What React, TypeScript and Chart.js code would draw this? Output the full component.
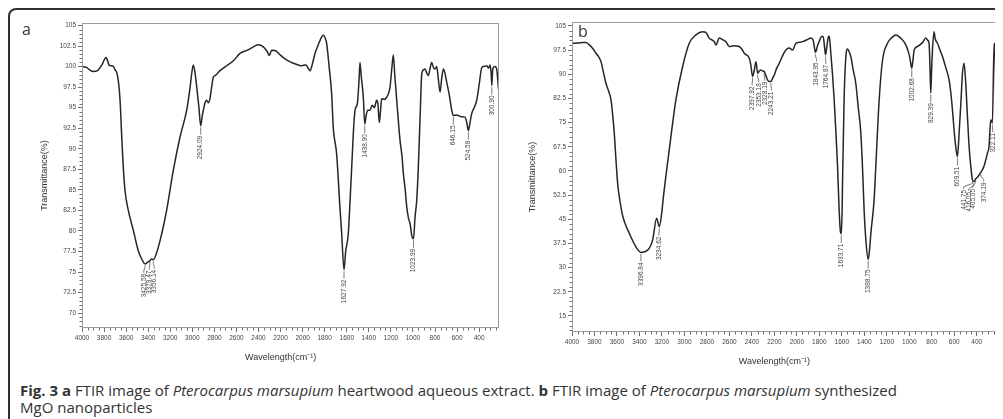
import React, { useEffect, useRef } from "react";
import { Chart, registerables } from "chart.js";

Chart.register(...registerables);

// ---------- Panel a: heartwood aqueous extract ----------
const wavenumberA = [
  4000, 3960, 3930, 3900, 3860, 3820, 3782, 3770, 3755, 3735, 3715, 3700, 3686, 3670, 3655, 3640, 3626, 3610,
  3580, 3535, 3490, 3455, 3429, 3405, 3384, 3370, 3354, 3320, 3293, 3260, 3233, 3172, 3112, 3051, 3020, 3006,
  2991, 2975, 2960, 2940, 2924, 2910, 2900, 2885, 2870, 2855, 2840, 2825, 2810, 2794, 2749, 2700, 2628, 2568,
  2500, 2447, 2402, 2356, 2320, 2302, 2281, 2250, 2210, 2175, 2130, 2084, 2040, 2009, 1970, 1950, 1933, 1910,
  1888, 1860, 1827, 1812, 1797, 1782, 1760, 1737, 1722, 1692, 1662, 1646, 1625, 1610, 1586, 1570, 1555, 1540,
  1525, 1504, 1490, 1480, 1470, 1450, 1437, 1425, 1410, 1389, 1370, 1350, 1329, 1318, 1305, 1295, 1283, 1260,
  1237, 1220, 1208, 1190, 1178, 1165, 1147, 1130, 1117, 1100, 1087, 1070, 1056, 1040, 1026, 1010, 995, 981,
  966, 951, 935, 920, 905, 890, 875, 860, 845, 830, 815, 800, 785, 770, 754, 740, 724, 710, 694, 670, 650, 634,
  610, 589, 560, 528, 512, 498, 485, 467, 445, 422, 400, 376, 355, 331, 315, 300, 290, 285, 278, 271, 255, 240,
  225,
];
const transmittanceA = [
  100.0, 99.9, 99.6, 99.4, 99.5, 100.2, 101.1, 100.8, 100.2, 100.1, 100.0, 99.6, 99.3, 98.2, 95.9, 91.5, 87.8, 84.9,
  82.5, 80.1, 77.6, 76.5, 76.0, 76.2, 76.4, 76.6, 76.5, 77.5, 78.8, 80.7, 82.5, 87.4, 91.4, 94.7, 97.5, 99.1,
  100.2, 99.2, 97.5, 95.0, 92.8, 94.0, 94.7, 95.6, 95.9, 95.6, 96.1, 97.5, 98.7, 98.9, 99.5, 100.0, 100.7, 101.6,
  102.0, 102.4, 102.65, 102.4, 101.8, 101.35, 102.0, 101.96, 101.5, 101.1, 100.7, 100.4, 100.2, 100.1, 100.2, 99.8, 99.5, 100.4,
  101.6, 102.6, 103.6, 103.8, 103.5, 102.8, 100.0, 96.7, 92.5, 89.4, 82.9, 79.7, 75.3, 77.5, 79.7, 83.7, 87.8, 92.0,
  94.7, 95.5, 98.0, 100.5, 99.0, 96.3, 93.0, 94.0, 94.7, 94.7, 95.3, 95.0, 95.9, 95.5, 93.2, 94.5, 96.1, 96.0,
  96.3, 96.8, 97.5, 100.0, 101.4, 99.0, 95.9, 93.0, 91.0, 89.2, 87.0, 85.0, 82.9, 81.5, 80.9, 79.4, 79.05, 81.7,
  83.7, 87.8, 94.0, 99.1, 99.6, 99.7, 99.2, 98.9, 99.8, 100.5, 99.9, 99.7, 100.0, 98.5, 96.9, 98.5, 99.7, 99.2, 98.1, 96.5, 94.8, 94.05,
  94.1, 94.05, 93.9, 93.85, 93.2, 92.2, 93.0, 94.3, 95.0, 95.9, 97.8, 99.9, 100.0, 100.1, 99.8, 100.2, 99.0, 97.7, 99.5, 99.9, 100.0, 99.6,
  97.3,
];
const peakLabelA = ["3425.58", "3379.47", "3356.14", "2924.09", "1627.92", "1438.90", "1023.99", "646.15", "524.58", "300.90"];
const peakAtA = [3429, 3384, 3354, 2924, 1625, 1437, 995, 634, 498, 285];
const peakValueA = [76.0, 76.4, 76.5, 92.8, 75.3, 93.0, 79.05, 94.05, 92.2, 97.7];
const peakTextAtA = [3440, 3390, 3345, 2924, 1625, 1437, 995, 634, 498, 285];
const yTickValuesA = [70, 72.5, 75, 77.5, 80, 82.5, 85, 87.5, 90, 92.5, 95, 97.5, 100, 102.5, 105];
const yRangeA = { min: 68.2, max: 105.3, minor: 0.5, step: 2.5 };

// ---------- Panel b: synthesized MgO nanoparticles ----------
const wavenumberB = [
  4000, 3979, 3940, 3900, 3876, 3846, 3815, 3787, 3765, 3742, 3720, 3698, 3675, 3653, 3640, 3624, 3610, 3594,
  3573, 3549, 3520, 3490, 3431, 3387, 3327, 3283, 3247, 3224, 3200, 3190, 3135, 3076, 3016, 2957, 2898, 2838,
  2810, 2780, 2735, 2720, 2690, 2660, 2631, 2602, 2560, 2513, 2490, 2468, 2424, 2410, 2394, 2380, 2364, 2349,
  2335, 2320, 2305, 2290, 2275, 2260, 2245, 2231, 2215, 2201, 2180, 2157, 2130, 2098, 2068, 2038, 2009, 1980,
  1949, 1910, 1876, 1855, 1840, 1835, 1815, 1802, 1780, 1766, 1754, 1745, 1730, 1718, 1712, 1698, 1683, 1668,
  1650, 1638, 1624, 1612, 1605, 1598, 1594, 1580, 1564, 1549, 1535, 1520, 1500, 1476, 1455, 1431, 1415, 1402,
  1385, 1366, 1355, 1342, 1313, 1298, 1268, 1238, 1194, 1160, 1120, 1076, 1031, 1001, 990, 978, 967, 957, 927,
  883, 853, 835, 824, 816, 809, 801, 794, 780, 770, 749, 727, 705, 675, 646, 630, 616, 600, 587, 572, 557, 540,
  527, 513, 498, 483, 468, 452, 438, 424, 410, 395, 380, 365, 350, 335, 320, 305, 291, 276, 268, 261, 246, 240,
  231, 225, 222,
];
const transmittanceB = [
  99.6, 99.6, 99.7, 99.8, 99.8, 99.1, 98.0, 96.5, 95.5, 93.9, 90.5, 87.2, 84.8, 82.0, 78.0, 71.7, 64.0, 56.1,
  50.5, 46.0, 43.0, 40.6, 36.4, 34.7, 35.4, 38.5, 45.3, 42.7, 47.5, 51.0, 66.5, 82.0, 92.4, 99.6, 102.2, 103.2,
  103.0, 101.2, 100.1, 99.1, 101.2, 100.7, 100.1, 98.6, 98.8, 98.6, 97.8, 96.5, 95.0, 93.0, 89.3, 91.0, 93.9, 90.3,
  91.0, 91.3, 91.0, 90.8, 89.5, 88.2, 87.7, 87.7, 88.8, 89.8, 91.8, 93.4, 95.5, 97.5, 98.1, 97.5, 99.6, 99.9,
  100.1, 100.7, 101.2, 100.5, 97.5, 96.8, 99.0, 100.1, 101.7, 101.7, 98.5, 96.0, 99.5, 101.8, 101.7, 96.5, 90.0, 82.0,
  70.0, 61.3, 47.9, 41.0, 40.5, 47.0, 56.1, 82.0, 95.5, 97.8, 97.0, 95.5, 91.5, 87.2, 80.0, 71.7, 60.0, 47.9,
  38.0, 32.5, 35.0, 40.6, 51.0, 61.3, 82.0, 94.4, 99.6, 101.2, 102.2, 101.2, 99.1, 96.0, 94.0, 91.9, 94.5, 97.5, 98.6,
  99.8, 101.2, 100.5, 99.6, 92.0, 84.1, 92.0, 97.5, 103.2, 101.0, 99.6, 97.5, 95.5, 92.0, 88.2, 84.0, 78.9, 72.0, 67.5, 64.4, 71.7, 82.0,
  90.3, 93.4, 87.2, 77.0, 67.5, 61.0, 57.2, 56.6, 57.5, 58.0, 58.7, 59.5, 60.3, 61.5, 63.4, 65.5, 67.5, 75.8, 75.5, 74.8, 99.6, 99.0,
  82.0, 50.0, 34.5,
];
const peakLabelB = [
  "3396.84", "3234.62", "2397.92", "2353.18", "2328.19", "2243.21", "1843.95", "1764.87", "1633.71", "1388.75",
  "1002.68", "829.39", "609.51", "441.75", "416.05", "405.05", "374.19", "322.11",
];
const peakAtB = [3387, 3224, 2394, 2349, 2290, 2231, 1835, 1745, 1605, 1366, 978, 809, 572, 438, 424, 410, 365, 261];
const peakValueB = [34.7, 42.7, 89.3, 90.3, 90.8, 87.7, 96.8, 96.0, 40.5, 32.5, 91.9, 84.1, 64.4, 57.2, 56.6, 57.5, 59.5, 74.8];
const peakTextAtB = [3387, 3227, 2398, 2339, 2286, 2227, 1825, 1742, 1605, 1366, 978, 809, 572, 516, 471, 436, 338, 258];
const yTickValuesB = [15, 22.5, 30, 37.5, 45, 52.5, 60, 67.5, 75, 82.5, 90, 97.5, 105];
const yRangeB = { min: 10, max: 106.2, minor: 1.5, step: 7.5 };

// ---------- shared x axis ----------
const xTickValues = [4000, 3800, 3600, 3400, 3200, 3000, 2800, 2600, 2400, 2200, 2000, 1800, 1600, 1400, 1200, 1000, 800, 600, 400];
const X_MIN = 220;
const X_MAX = 4000;
const X_STEP = 200;
const X_MINOR = 50;

const FONT = "'Liberation Sans', Arial, sans-serif";

type Layout = {
  w: number;
  h: number;
  left: number;
  top: number;
  right: number;
  bottom: number;
  yTitleX: number;
};

type PanelProps = {
  wn: number[];
  tr: number[];
  labels: string[];
  at: number[];
  val: number[];
  textAt: number[];
  yTicks: number[];
  yr: { min: number; max: number; minor: number; step: number };
  layout: Layout;
  style: React.CSSProperties;
};

function Panel({ wn, tr, labels, at, val, textAt, yTicks, yr, layout, style }: PanelProps) {
  const ref = useRef<HTMLCanvasElement | null>(null);
  useEffect(() => {
    if (!ref.current) return;
    const L = layout;
    const decor = {
      id: "decor",
      afterDraw(chart: any) {
        const { ctx, chartArea: a } = chart;
        const x = chart.scales.x;
        const y = chart.scales.y;
        ctx.save();
        // plot frame
        ctx.strokeStyle = "#9c9c9c";
        ctx.lineWidth = 1;
        ctx.strokeRect(Math.round(a.left) + 0.5, Math.round(a.top) + 0.5, Math.round(a.right - a.left) - 1, Math.round(a.bottom - a.top) - 1);
        // minor ticks
        ctx.strokeStyle = "#707070";
        ctx.beginPath();
        for (let v = Math.ceil(X_MIN / X_MINOR) * X_MINOR; v <= X_MAX; v += X_MINOR) {
          if (v % X_STEP === 0) continue;
          const px = Math.round(x.getPixelForValue(v)) + 0.5;
          ctx.moveTo(px, a.bottom);
          ctx.lineTo(px, a.bottom + 2.5);
        }
        const n0 = Math.ceil(yr.min / yr.minor);
        for (let k = n0; k * yr.minor <= yr.max; k++) {
          const v = k * yr.minor;
          if (Math.abs(v / yr.step - Math.round(v / yr.step)) < 1e-6) continue;
          const py = Math.round(y.getPixelForValue(v)) + 0.5;
          ctx.moveTo(a.left, py);
          ctx.lineTo(a.left - 2.5, py);
        }
        ctx.stroke();
        // peak labels
        ctx.strokeStyle = "#555";
        ctx.fillStyle = "#444";
        ctx.lineWidth = 0.8;
        ctx.font = `6.5px ${FONT}`;
        for (let i = 0; i < labels.length; i++) {
          const ax = x.getPixelForValue(at[i]);
          const ay = y.getPixelForValue(val[i]);
          const tx = x.getPixelForValue(textAt[i]);
          ctx.beginPath();
          ctx.moveTo(ax, ay + 1.5);
          ctx.lineTo(ax, ay + 3.5);
          ctx.lineTo(tx, ay + 7);
          ctx.lineTo(tx, ay + 9);
          ctx.stroke();
          ctx.save();
          ctx.translate(tx, ay + 10);
          ctx.rotate(-Math.PI / 2);
          ctx.textAlign = "right";
          ctx.textBaseline = "middle";
          ctx.fillText(labels[i], 0, 0);
          ctx.restore();
        }
        // axis titles
        ctx.fillStyle = "#333";
        ctx.font = `9px ${FONT}`;
        ctx.textAlign = "center";
        ctx.textBaseline = "middle";
        ctx.fillText("Wavelength(cm\u207B\u00B9)", x.getPixelForValue((xTickValues[0] + xTickValues[xTickValues.length - 1]) / 2), a.bottom + 30);
        ctx.save();
        ctx.translate(L.yTitleX, (a.top + a.bottom) / 2);
        ctx.rotate(-Math.PI / 2);
        ctx.fillText("Transmittance(%)", 0, 0);
        ctx.restore();
        ctx.restore();
      },
    };
    const chart = new Chart(ref.current, {
      type: "line",
      data: {
        datasets: [
          {
            data: wn.map((w, i) => ({ x: w, y: tr[i] })),
            borderColor: "#262626",
            borderWidth: 1.5,
            pointRadius: 0,
            cubicInterpolationMode: "monotone",
            fill: false,
          },
        ],
      },
      options: {
        animation: false,
        responsive: false,
        devicePixelRatio: 1,
        events: [],
        layout: { padding: { left: 0, top: L.top, right: L.w - L.right, bottom: 0 } },
        plugins: { legend: { display: false }, tooltip: { enabled: false } },
        scales: {
          x: {
            type: "linear",
            reverse: true,
            min: X_MIN,
            max: X_MAX,
            afterBuildTicks: (s: any) => {
              s.ticks = xTickValues.map((v) => ({ value: v }));
            },
            afterFit: (s: any) => {
              s.height = L.h - L.bottom;
            },
            border: { display: false },
            grid: { drawOnChartArea: false, drawTicks: true, tickLength: 4, color: "#707070", lineWidth: 1 },
            ticks: {
              autoSkip: false,
              maxRotation: 0,
              minRotation: 0,
              padding: 2,
              color: "#444",
              font: { size: 6.5, family: FONT },
              callback: (v: any) => String(v),
            },
          },
          y: {
            type: "linear",
            min: yr.min,
            max: yr.max,
            afterBuildTicks: (s: any) => {
              s.ticks = yTicks.map((v) => ({ value: v }));
            },
            afterFit: (s: any) => {
              s.width = L.left;
            },
            border: { display: false },
            grid: { drawOnChartArea: false, drawTicks: true, tickLength: 4, color: "#707070", lineWidth: 1 },
            ticks: {
              autoSkip: false,
              padding: 2,
              color: "#444",
              font: { size: 6.5, family: FONT },
              callback: (v: any) => String(v),
            },
          },
        },
      },
      plugins: [decor],
    } as any);
    return () => chart.destroy();
  }, []);
  return (
    <canvas
      ref={ref}
      width={layout.w}
      height={layout.h}
      style={{ position: "absolute", width: layout.w, height: layout.h, ...style }}
    />
  );
}

const layoutA: Layout = { w: 495, h: 362, left: 74, top: 15, right: 491, bottom: 320, yTitleX: 37 };
const layoutB: Layout = { w: 500, h: 362, left: 69, top: 14, right: 494, bottom: 324, yTitleX: 30 };

export default function App() {
  return (
    <div style={{ position: "relative", width: 995, height: 411, overflow: "hidden", background: "#fff" }}>
      <div
        style={{
          position: "absolute",
          left: 0,
          top: 0,
          width: 1010,
          height: 430,
          border: "2px solid #2e2e2e",
          borderRadius: 8,
          boxSizing: "border-box",
        }}
      />
      <Panel wn={wavenumberA} tr={transmittanceA} labels={peakLabelA} at={peakAtA} val={peakValueA} textAt={peakTextAtA} yTicks={yTickValuesA} yr={yRangeA} layout={layoutA} style={{ left: 0, top: 0 }} />
      <Panel wn={wavenumberB} tr={transmittanceB} labels={peakLabelB} at={peakAtB} val={peakValueB} textAt={peakTextAtB} yTicks={yTickValuesB} yr={yRangeB} layout={layoutB} style={{ left: 495, top: 0 }} />
      <div style={{ position: "absolute", left: 14, top: 13, fontFamily: "'Open Sans', sans-serif", fontSize: 16, color: "#333", lineHeight: 1 }}>a</div>
      <div style={{ position: "absolute", left: 570, top: 15, fontFamily: "'Open Sans', sans-serif", fontSize: 16, color: "#333", lineHeight: 1 }}>b</div>
      <div
        style={{
          position: "absolute",
          left: 12,
          top: 374,
          width: 985,
          fontFamily: "'Open Sans', sans-serif",
          fontSize: 15,
          lineHeight: "17px",
          color: "#333",
          whiteSpace: "nowrap",
        }}
      >
        <b>Fig. 3 a</b> FTIR image of <i>Pterocarpus marsupium</i> heartwood aqueous extract. <b>b</b> FTIR image of{" "}
        <i>Pterocarpus marsupium</i> synthesized
        <br />
        MgO nanoparticles
      </div>
    </div>
  );
}
